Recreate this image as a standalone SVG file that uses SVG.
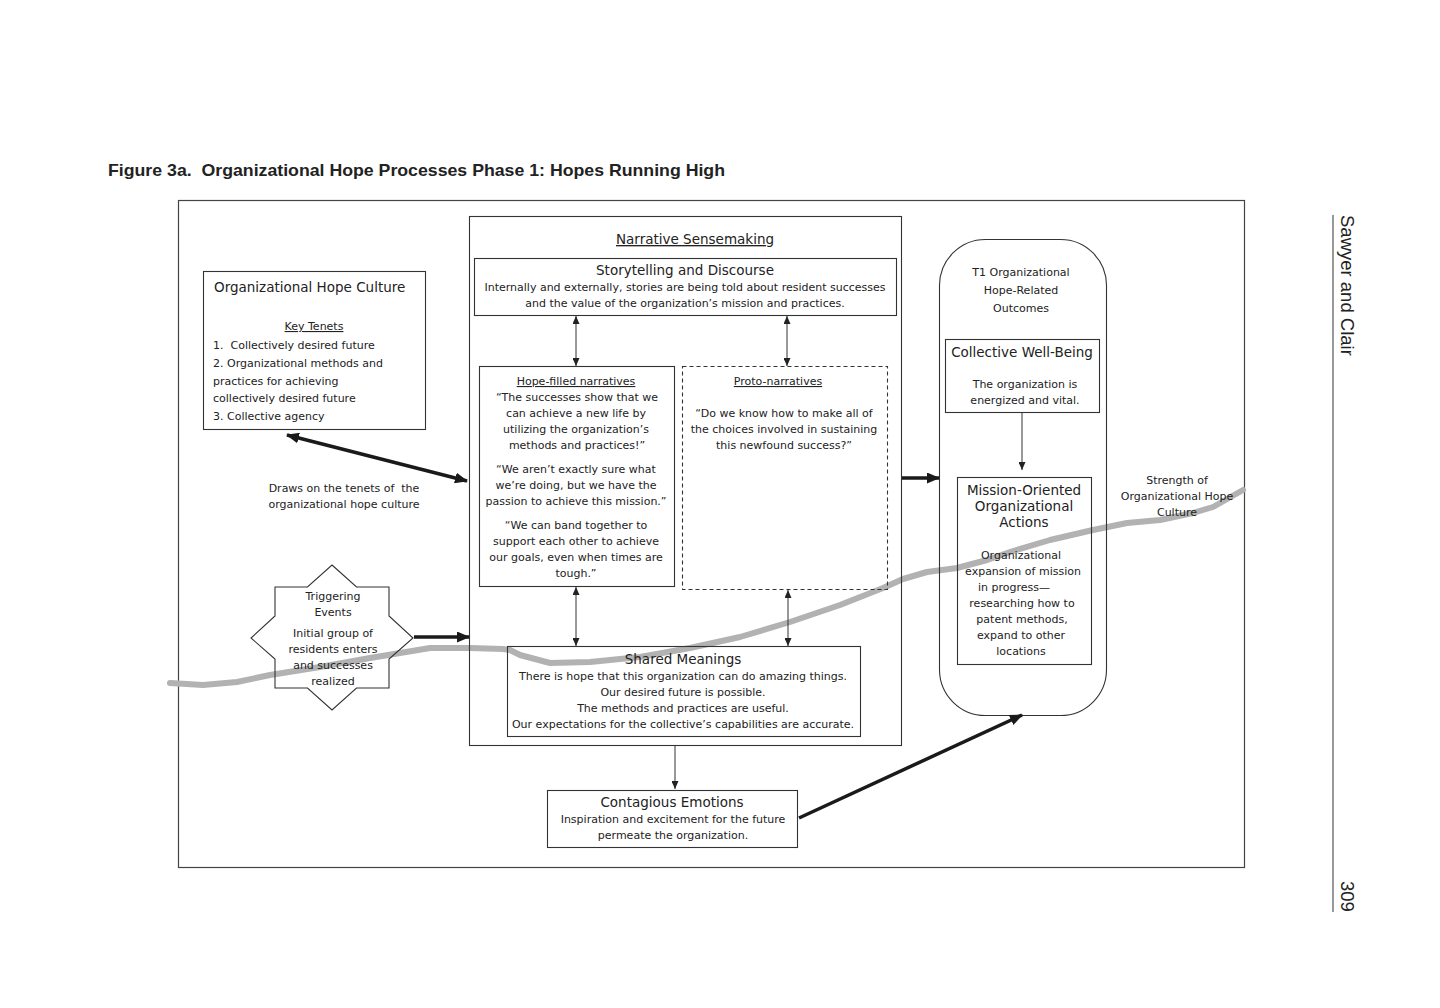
<svg xmlns="http://www.w3.org/2000/svg" width="1440" height="1008" viewBox="0 0 1440 1008">
<style>
  text { font-family: "DejaVu Sans", "Liberation Sans", sans-serif; fill: #222; }
  .b { font-size: 11px; text-anchor: middle; }
  .bl { font-size: 11px; }
  .h { font-size: 13.5px; text-anchor: middle; }
  .u { text-decoration: underline; }
  .lib { font-family: "Liberation Sans", Arial, sans-serif; }
  .box { fill: none; stroke: #333; stroke-width: 1.1; }
  .thin { stroke: #333; stroke-width: 1; fill: none; }
  .thick { stroke: #1a1a1a; stroke-width: 3.5; fill: none; }
</style>
<defs>
  <marker id="ah" markerUnits="userSpaceOnUse" markerWidth="8" markerHeight="7" refX="8" refY="3.5" orient="auto-start-reverse">
    <path d="M0,0 L8,3.5 L0,7 z" fill="#222"/>
  </marker>
  <marker id="AH" markerUnits="userSpaceOnUse" markerWidth="13" markerHeight="11" refX="12" refY="5.5" orient="auto-start-reverse">
    <path d="M0,0 L13,5.5 L0,11 z" fill="#1a1a1a"/>
  </marker>
</defs>
<rect width="1440" height="1008" fill="#fff"/>

<text class="lib" x="108" y="176" font-size="17" font-weight="bold" textLength="617" lengthAdjust="spacingAndGlyphs">Figure 3a.&#160; Organizational Hope Processes Phase 1: Hopes Running High</text>

<g id="frame">
  <rect x="178.5" y="200.5" width="1066" height="667" fill="none" stroke="#444" stroke-width="1.2"/>
</g>

<g id="curve">
  <polyline points="170,683 203,685 237,682 270,675 320,667 370,658 430,648 470,648 503,649 510,650 520,655 550,663 590,662 640,657 690,648 740,637 790,622 840,605 883,588 903,579 927,572 957,568 987,560 1010,552 1050,540 1093,530 1127,523 1160,520 1193,513 1213,507 1243,490" fill="none" stroke="#b2b2b2" stroke-width="6" stroke-linejoin="round" stroke-linecap="round"/>
</g>

<g id="hope-culture">
  <rect class="box" x="203.5" y="271.5" width="222" height="158"/>
  <text x="214" y="292" font-size="13.5">Organizational Hope Culture</text>
  <text class="b u" x="314" y="330">Key Tenets</text>
  <text class="bl" x="213" y="349">1.&#160; Collectively desired future</text>
  <text class="bl" x="213" y="367">2. Organizational methods and</text>
  <text class="bl" x="213" y="385">practices for achieving</text>
  <text class="bl" x="213" y="402">collectively desired future</text>
  <text class="bl" x="213" y="420">3. Collective agency</text>
</g>

<g id="draws-label">
  <text class="b" x="344" y="492">Draws on the tenets of&#160; the</text>
  <text class="b" x="344" y="508">organizational hope culture</text>
</g>

<g id="triggering-events">
  <polygon class="box" points="332,565 356.5,587 389,587 389,616 413,638 389,659 389,688 356.5,688 332,710 307.5,688 275,688 275,659 251,638 275,616 275,587 307.5,587"/>
  <text class="b" x="333" y="600">Triggering</text>
  <text class="b" x="333" y="616">Events</text>
  <text class="b" x="333" y="637">Initial group of</text>
  <text class="b" x="333" y="653">residents enters</text>
  <text class="b" x="333" y="669">and successes</text>
  <text class="b" x="333" y="685">realized</text>
</g>

<g id="narrative-sensemaking">
  <rect class="box" x="469.5" y="216.5" width="432" height="529"/>
  <text class="h u" x="695" y="244" font-size="13">Narrative Sensemaking</text>
</g>

<g id="storytelling">
  <rect class="box" x="474.5" y="258.5" width="422" height="57"/>
  <text class="h" x="685" y="275">Storytelling and Discourse</text>
  <text class="b" x="685" y="291">Internally and externally, stories are being told about resident successes</text>
  <text class="b" x="685" y="307">and the value of the organization’s mission and practices.</text>
</g>

<g id="hope-filled">
  <rect class="box" x="479.5" y="366.5" width="195" height="220"/>
  <text class="b u" x="576" y="385">Hope-filled narratives</text>
  <text class="b" x="577" y="401">“The successes show that we</text>
  <text class="b" x="576" y="417">can achieve a new life by</text>
  <text class="b" x="576" y="433">utilizing the organization’s</text>
  <text class="b" x="577" y="449">methods and practices!”</text>
  <text class="b" x="576" y="473">“We aren’t exactly sure what</text>
  <text class="b" x="576" y="489">we’re doing, but we have the</text>
  <text class="b" x="576" y="505">passion to achieve this mission.”</text>
  <text class="b" x="576" y="529">“We can band together to</text>
  <text class="b" x="576" y="545">support each other to achieve</text>
  <text class="b" x="576" y="561">our goals, even when times are</text>
  <text class="b" x="576" y="577">tough.”</text>
</g>

<g id="proto-narratives">
  <rect class="box" x="682.5" y="366.5" width="205" height="223" stroke-dasharray="4,3"/>
  <text class="b u" x="778" y="385">Proto-narratives</text>
  <text class="b" x="784" y="417">“Do we know how to make all of</text>
  <text class="b" x="784" y="433">the choices involved in sustaining</text>
  <text class="b" x="784" y="449">this newfound success?”</text>
</g>

<g id="shared-meanings">
  <rect class="box" x="507.5" y="646.5" width="353" height="90"/>
  <text class="h" x="683" y="664">Shared Meanings</text>
  <text class="b" x="683" y="680">There is hope that this organization can do amazing things.</text>
  <text class="b" x="683" y="696">Our desired future is possible.</text>
  <text class="b" x="683" y="712">The methods and practices are useful.</text>
  <text class="b" x="683" y="728">Our expectations for the collective’s capabilities are accurate.</text>
</g>

<g id="contagious-emotions">
  <rect class="box" x="547.5" y="790.5" width="250" height="57"/>
  <text class="h" x="672" y="807">Contagious Emotions</text>
  <text class="b" x="673" y="823">Inspiration and excitement for the future</text>
  <text class="b" x="673" y="839">permeate the organization.</text>
</g>

<g id="t1-outcomes">
  <rect class="box" x="939.5" y="239.5" width="167" height="476" rx="46" ry="46"/>
  <text class="b" x="1021" y="276">T1 Organizational</text>
  <text class="b" x="1021" y="294">Hope-Related</text>
  <text class="b" x="1021" y="312">Outcomes</text>
</g>

<g id="collective-well-being">
  <rect class="box" x="945.5" y="339.5" width="154" height="73"/>
  <text class="h" x="1022" y="357">Collective Well-Being</text>
  <text class="b" x="1025" y="388">The organization is</text>
  <text class="b" x="1025" y="404">energized and vital.</text>
</g>

<g id="mission-actions">
  <rect class="box" x="957.5" y="477.5" width="134" height="187"/>
  <text class="h" x="1024" y="495">Mission-Oriented</text>
  <text class="h" x="1024" y="511">Organizational</text>
  <text class="h" x="1024" y="527">Actions</text>
  <text class="b" x="1021" y="559">Organizational</text>
  <text class="b" x="1023" y="575">expansion of mission</text>
  <text class="b" x="1014" y="591">in progress—</text>
  <text class="b" x="1022" y="607">researching how to</text>
  <text class="b" x="1022" y="623">patent methods,</text>
  <text class="b" x="1021" y="639">expand to other</text>
  <text class="b" x="1021" y="655">locations</text>
</g>

<g id="strength-label">
  <text class="b" x="1177" y="484">Strength of</text>
  <text class="b" x="1177" y="500">Organizational Hope</text>
  <text class="b" x="1177" y="516">Culture</text>
</g>

<g id="connectors">
  <line class="thick" x1="287" y1="435" x2="467" y2="481" marker-start="url(#AH)" marker-end="url(#AH)"/>
  <line class="thick" x1="414" y1="637" x2="469" y2="637" marker-end="url(#AH)"/>
  <line class="thick" x1="902" y1="478" x2="939" y2="478" marker-end="url(#AH)"/>
  <line class="thick" x1="799" y1="818" x2="1022" y2="715" marker-end="url(#AH)"/>
  <line class="thin" x1="576" y1="316" x2="576" y2="366" marker-start="url(#ah)" marker-end="url(#ah)"/>
  <line class="thin" x1="787" y1="316" x2="787" y2="366" marker-start="url(#ah)" marker-end="url(#ah)"/>
  <line class="thin" x1="576" y1="587" x2="576" y2="646" marker-start="url(#ah)" marker-end="url(#ah)"/>
  <line class="thin" x1="788" y1="590" x2="788" y2="646" marker-start="url(#ah)" marker-end="url(#ah)"/>
  <line class="thin" x1="675" y1="746" x2="675" y2="789" stroke="#666" marker-end="url(#ah)"/>
  <line class="thin" x1="1022" y1="413" x2="1022" y2="470" stroke="#666" marker-end="url(#ah)"/>
</g>

<g id="running-head">
  <line x1="1333" y1="215" x2="1333" y2="912" stroke="#333" stroke-width="1"/>
  <text class="lib" transform="translate(1341,215) rotate(90)" font-size="18.5">Sawyer and Clair</text>
  <text class="lib" transform="translate(1341,881) rotate(90)" font-size="18.5">309</text>
</g>
</svg>
